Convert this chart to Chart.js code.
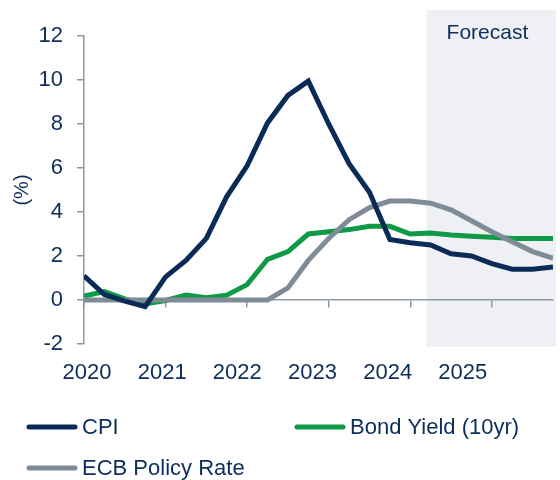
<!DOCTYPE html>
<html>
<head>
<meta charset="utf-8">
<script src="https://cdn.jsdelivr.net/npm/chart.js@4/dist/chart.umd.min.js"></script>
<style>
  html, body { margin: 0; padding: 0; background: #ffffff; }
  #wrap { width: 560px; height: 480px; }
</style>
</head>
<body>
<div id="wrap"><canvas id="c" width="560" height="480"></canvas></div>
<script>
// ---- Data (quarterly, 2020 Q1 .. 2025 Q4) ----
const quarters = [
  2020.00, 2020.25, 2020.50, 2020.75,
  2021.00, 2021.25, 2021.50, 2021.75,
  2022.00, 2022.25, 2022.50, 2022.75,
  2023.00, 2023.25, 2023.50, 2023.75,
  2024.00, 2024.25, 2024.50, 2024.75,
  2025.00, 2025.25, 2025.50, 2025.75
];
const cpi = [
  1.1, 0.25, -0.05, -0.3,
  1.05, 1.8, 2.8, 4.7,
  6.1, 8.05, 9.3, 9.95,
  8.0, 6.2, 4.9, 2.75,
  2.6, 2.5, 2.1, 2.0,
  1.65, 1.4, 1.4, 1.5
];
const bondYield = [
  0.18, 0.38, 0.05, -0.18,
  -0.02, 0.22, 0.1, 0.22,
  0.7, 1.85, 2.2, 3.0,
  3.1, 3.2, 3.35, 3.35,
  3.0, 3.05, 2.95, 2.9,
  2.85, 2.8, 2.8, 2.8
];
const ecbRate = [
  0, 0, 0, 0,
  0, 0, 0, 0,
  0, 0, 0.55, 1.8,
  2.8, 3.65, 4.2, 4.5,
  4.5, 4.4, 4.1, 3.6,
  3.1, 2.65, 2.2, 1.9
];
const seriesNames = ['CPI', 'Bond Yield (10yr)', 'ECB Policy Rate'];
const yearTicks = [2020, 2021, 2022, 2023, 2024, 2025];
const yTicks = [-2, 0, 2, 4, 6, 8, 10, 12];
const forecastStart = 2024.2;
const forecastLabel = 'Forecast';
const yTitle = '(%)';

// ---- Styles ----
const FONT = "'Liberation Sans', Arial, sans-serif";
const TEXT = '#0d2d5b';
const NAVY = '#0a2b58';
const GREEN = '#0e9a47';
const GREY = '#7f8b96';
const AXIS = '#8f99a4';
const SHADE = '#eef0f3';

const toXY = vals => quarters.map((q, i) => ({ x: q, y: vals[i] }));

const forecastPlugin = {
  id: 'forecastBox',
  beforeDraw(chart) {
    const { ctx, chartArea, scales } = chart;
    const x0 = scales.x.getPixelForValue(forecastStart);
    const x1 = chartArea.right + 3;
    const y0 = 10;
    const y1 = chartArea.bottom + 3;
    ctx.save();
    ctx.fillStyle = SHADE;
    ctx.fillRect(x0, y0, x1 - x0, y1 - y0);
    ctx.fillStyle = TEXT;
    ctx.font = '21px ' + FONT;
    ctx.textAlign = 'left';
    ctx.textBaseline = 'middle';
    ctx.fillText(forecastLabel, x0 + 20, 33);
    ctx.restore();
  }
};

const legendPlugin = {
  id: 'gridLegend',
  afterDraw(chart) {
    const { ctx } = chart;
    const cols = [27, 295];
    const rows = [427, 468];
    ctx.save();
    ctx.font = '22px ' + FONT;
    ctx.textBaseline = 'middle';
    ctx.textAlign = 'left';
    chart.data.datasets.forEach((ds, i) => {
      const cx = cols[i % 2];
      const cy = rows[Math.floor(i / 2)];
      ctx.strokeStyle = ds.borderColor;
      ctx.lineWidth = 5;
      ctx.lineCap = 'round';
      ctx.beginPath();
      ctx.moveTo(cx + 2, cy);
      ctx.lineTo(cx + 48, cy);
      ctx.stroke();
      ctx.fillStyle = TEXT;
      ctx.fillText(ds.label, cx + 55, cy + 1);
    });
    ctx.restore();
  }
};

new Chart(document.getElementById('c'), {
  type: 'line',
  data: {
    datasets: [
      { label: seriesNames[0], data: toXY(cpi), borderColor: NAVY, backgroundColor: NAVY, order: 0 },
      { label: seriesNames[1], data: toXY(bondYield), borderColor: GREEN, backgroundColor: GREEN, order: 2 },
      { label: seriesNames[2], data: toXY(ecbRate), borderColor: GREY, backgroundColor: GREY, order: 1 }
    ]
  },
  options: {
    responsive: false,
    animation: false,
    devicePixelRatio: 1,
    layout: { padding: { left: 6.5, right: 7, top: 36, bottom: 94 } },
    elements: {
      line: { borderWidth: 5, tension: 0, fill: false, borderJoinStyle: 'miter' },
      point: { radius: 0, hoverRadius: 0 }
    },
    plugins: {
      legend: { display: false },
      tooltip: { enabled: false }
    },
    scales: {
      x: {
        type: 'linear',
        position: { y: 0 },
        min: quarters[0],
        max: quarters[quarters.length - 1],
        afterBuildTicks: axis => { axis.ticks = yearTicks.map(v => ({ value: v })); },
        afterFit: axis => { axis.height = 0; axis.paddingLeft = 0; axis.paddingRight = 0; },
        ticks: { display: false },
        grid: { drawOnChartArea: false, drawTicks: true, tickLength: 7, color: AXIS, lineWidth: 1.5 },
        border: { display: true, color: AXIS, width: 1.5 }
      },
      xLabels: {
        type: 'linear',
        axis: 'x',
        position: 'bottom',
        min: 2019.96,
        max: 2026.2,
        afterBuildTicks: axis => { axis.ticks = yearTicks.map(v => ({ value: v })); },
        afterFit: axis => { axis.height = 42; axis.paddingLeft = 0; axis.paddingRight = 0; },
        ticks: {
          padding: 16,
          color: TEXT,
          font: { family: FONT, size: 22 },
          maxRotation: 0,
          autoSkip: false,
          callback: v => String(v)
        },
        grid: { display: false, drawTicks: false },
        border: { display: false }
      },
      y: {
        min: -2,
        max: 12,
        afterBuildTicks: axis => { axis.ticks = yTicks.map(v => ({ value: v })); },
        afterFit: axis => { axis.width = 77.5; },
        ticks: {
          padding: 14,
          color: TEXT,
          font: { family: FONT, size: 22 },
          callback: v => String(v)
        },
        grid: { drawOnChartArea: false, drawTicks: true, tickLength: 7, color: AXIS, lineWidth: 1.5 },
        border: { display: true, color: AXIS, width: 1.5 },
        title: {
          display: true,
          text: yTitle,
          color: TEXT,
          font: { family: FONT, size: 20 },
          padding: { top: 4, bottom: 4 }
        }
      }
    }
  },
  plugins: [forecastPlugin, legendPlugin]
});
</script>
</body>
</html>
